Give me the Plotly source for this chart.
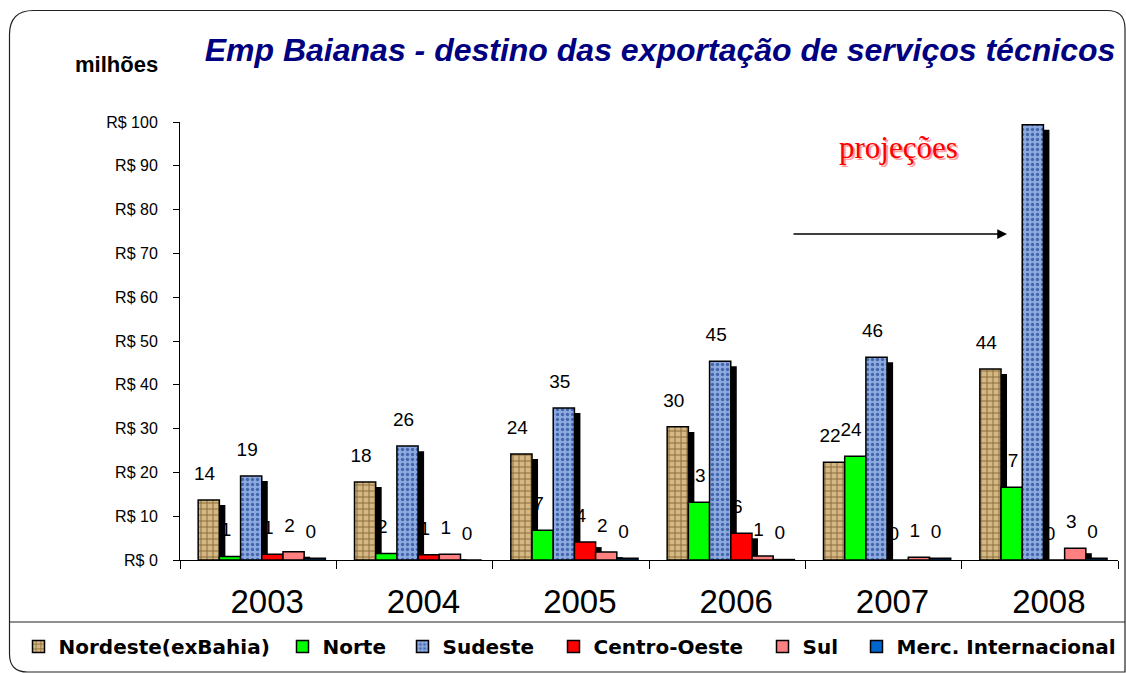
import numpy as np
import plotly.graph_objects as go

years = ["2003", "2004", "2005", "2006", "2007", "2008"]
nordeste = [13.7, 17.8, 24.2, 30.4, 22.3, 43.6]
norte = [0.8, 1.5, 6.8, 13.2, 23.7, 16.6]
sudeste = [19.2, 26.0, 34.7, 45.4, 46.3, 99.4]
centro_oeste = [1.3, 1.2, 4.1, 6.1, 0.0, 0.0]
sul = [1.9, 1.3, 1.8, 0.9, 0.6, 2.7]
merc_internacional = [0.4, 0.0, 0.4, 0.1, 0.4, 0.4]

series_names = ["Nordeste(exBahia)", "Norte", "Sudeste", "Centro-Oeste", "Sul", "Merc. Internacional"]
series_values = [nordeste, norte, sudeste, centro_oeste, sul, merc_internacional]
series_colors = ["#CFB07A", "#00FF00", "#86A6DE", "#FF0000", "#FF8080", "#0066CC"]
series_patterns = [
    dict(shape="+", fgcolor="#8A6A3A", bgcolor="#D4B883", size=6, solidity=0.3, fillmode="replace"),
    None,
    dict(shape=".", fgcolor="#4466AA", bgcolor="#8DAAE0", size=5, solidity=0.35, fillmode="replace"),
    None, None, None,
]

W, H = 1126, 673
PLOT_L, PLOT_R, PLOT_T, PLOT_B = 180, 1118, 122, 560   # page pixels
L, R, T, B = PLOT_L, W - PLOT_R, PLOT_T, H - PLOT_B
PW, PH = PLOT_R - PLOT_L, PLOT_B - PLOT_T
CAT_PX = PW / len(years)

def px_x(px):
    return (px - PLOT_L) / PW

def px_y(py):
    return (PLOT_B - py) / PH

BAR_W = 21.2 / CAT_PX
START = -60.0 / CAT_PX
SH_DX = 6.0 / CAT_PX
SH_BASE = -0.45
SH_DROP = 1.15
LABEL_BASE = 3.0
LABEL_DX = -4.0 / CAT_PX

# legend entry positions (page x of each legend symbol)
legend_symbol_x = [34, 298, 418, 569, 778, 872]
legend_ids = ["legend", "legend2", "legend3", "legend4", "legend5", "legend6"]

fig = go.Figure()
FONT = "Liberation Sans, Arial, sans-serif"

# value labels (drawn first so shadows may overlap them)
for i, vals in enumerate(series_values):
    fig.add_trace(go.Bar(
        x=years, y=vals, base=LABEL_BASE, width=BAR_W, offset=START + i * BAR_W + LABEL_DX,
        marker=dict(color="rgba(0,0,0,0)", line=dict(width=0)),
        texttemplate="%{y:.0f}", textposition="outside", textangle=0,
        constraintext="none", cliponaxis=False,
        textfont=dict(family=FONT, size=19, color="black"),
        showlegend=False, hoverinfo="skip",
    ))

# 3D shadow faces
for i, vals in enumerate(series_values):
    v = np.array(vals)
    h = np.clip(v - SH_DROP - SH_BASE, 0, None)
    fig.add_trace(go.Bar(
        x=years, y=h, base=SH_BASE, width=BAR_W, offset=START + i * BAR_W + SH_DX,
        marker=dict(color="black", line=dict(width=0)),
        cliponaxis=False, showlegend=False, hoverinfo="skip",
    ))

# main bars
for i, vals in enumerate(series_values):
    marker = dict(color=series_colors[i], line=dict(color="black", width=1.5))
    if series_patterns[i] is not None:
        marker["pattern"] = series_patterns[i]
    fig.add_trace(go.Bar(
        x=years, y=vals, name=series_names[i], width=BAR_W, offset=START + i * BAR_W,
        marker=marker, cliponaxis=False, legend=legend_ids[i],
    ))

# outer rounded frame (page coords)
x0, y0, x1, y1 = 9.5, 10.5, 1125.0, 672.0
rtl, rtr, rbl = 24, 18, 18
path = (
    f"M {px_x(x0)} {px_y(y0 + rtl)} "
    f"Q {px_x(x0)} {px_y(y0)} {px_x(x0 + rtl)} {px_y(y0)} "
    f"L {px_x(x1 - rtr)} {px_y(y0)} "
    f"Q {px_x(x1)} {px_y(y0)} {px_x(x1)} {px_y(y0 + rtr)} "
    f"L {px_x(x1)} {px_y(y1)} "
    f"L {px_x(x0 + rbl)} {px_y(y1)} "
    f"Q {px_x(x0)} {px_y(y1)} {px_x(x0)} {px_y(y1 - rbl)} Z"
)
shapes = [
    dict(type="path", xref="paper", yref="paper", path=path, line=dict(color="#222", width=1.2)),
    dict(type="line", xref="paper", yref="paper", x0=px_x(x0), x1=px_x(x1), y0=px_y(622), y1=px_y(622),
         line=dict(color="#222", width=1.2)),
]

annotations = [
    dict(text="milhões", xref="paper", yref="paper", x=px_x(116), y=px_y(65),
         xanchor="center", yanchor="middle", showarrow=False,
         font=dict(family=FONT, size=22, color="black", weight="bold")),
    dict(text="projeções", xref="paper", yref="paper", x=px_x(900), y=px_y(149),
         xanchor="center", yanchor="middle", showarrow=False,
         font=dict(family="Liberation Serif, Times New Roman, serif", size=31, color="#FFA0A0")),
    dict(text="projeções", xref="paper", yref="paper", x=px_x(898), y=px_y(147),
         xanchor="center", yanchor="middle", showarrow=False,
         font=dict(family="Liberation Serif, Times New Roman, serif", size=31, color="#FF0000")),
    dict(text="", xref="paper", yref="paper", x=px_x(1007), y=px_y(234), ax=-215, ay=0,
         showarrow=True, arrowhead=2, arrowsize=1.3, arrowwidth=1.5, arrowcolor="black"),
]

legend_font = dict(family="DejaVu Sans, sans-serif", size=20, color="black", weight="bold")
legends = {}
for i, lid in enumerate(legend_ids):
    legends[lid] = dict(orientation="h", x=px_x(legend_symbol_x[i] - 15.5), y=px_y(627),
                        xanchor="left", yanchor="top", font=legend_font,
                        bgcolor="rgba(0,0,0,0)")

fig.update_layout(
    width=W, height=H,
    margin=dict(l=L, r=R, t=T, b=B, autoexpand=False),
    barmode="overlay",
    paper_bgcolor="white", plot_bgcolor="white",
    title=dict(text="Emp Baianas - destino das exportação de serviços técnicos",
               x=660 / W, y=1 - 50 / H, xanchor="center", yanchor="middle",
               font=dict(family=FONT, size=32, color="#000080", weight="bold", style="italic")),
    xaxis=dict(type="category", showline=True, linecolor="black", linewidth=1,
               ticks="outside", tickson="boundaries", ticklen=8, tickcolor="black",
               tickfont=dict(family=FONT, size=33, color="black"), ticklabelstandoff=12,
               ticklabelshift=9,
               showgrid=False, zeroline=False, fixedrange=True),
    yaxis=dict(range=[0, 100], dtick=10, tickprefix="R$ ", showline=True, linecolor="black", linewidth=1,
               ticks="outside", ticklen=6, tickcolor="black",
               tickfont=dict(family=FONT, size=16, color="black"), ticklabelstandoff=12,
               showgrid=False, zeroline=False, fixedrange=True),
    shapes=shapes,
    annotations=annotations,
    showlegend=True,
    **legends,
)

fig.write_html(
    "out.html",
    config={"displayModeBar": False},
    post_script="document.body.style.margin='0';document.body.style.overflow='hidden';",
)
